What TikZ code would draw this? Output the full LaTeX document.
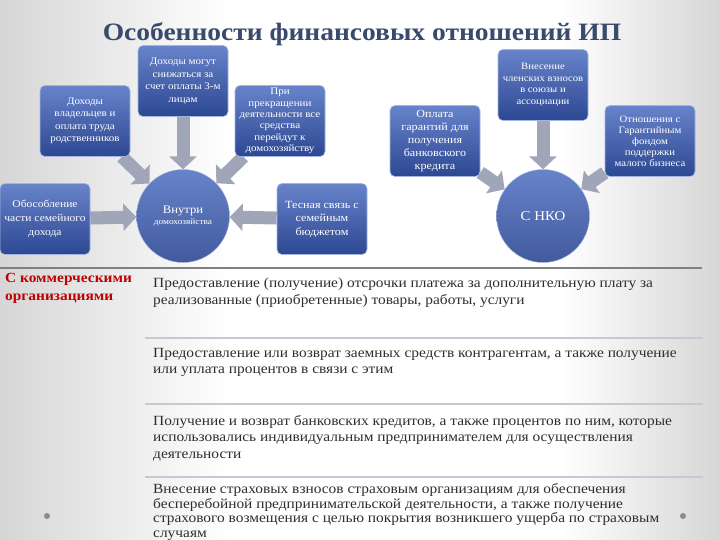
\documentclass[tikz,border=0pt]{standalone}
\usepackage{fontspec}
\setmainfont[FakeStretch=1.1]{Liberation Serif}
\usetikzlibrary{positioning,arrows.meta,backgrounds}

\definecolor{boxtop}{HTML}{6783CA}
\definecolor{boxbot}{HTML}{2D4892}
\definecolor{arrgray}{HTML}{A0A6B8}
\definecolor{titleblue}{HTML}{3A4A6C}
\definecolor{textgray}{HTML}{2E2E2E}
\definecolor{sepgray}{HTML}{C6C9D3}
\definecolor{redtext}{HTML}{C00000}
\definecolor{edgegray}{HTML}{D6D6D6}

\tikzset{
  infobox/.style={rectangle, rounded corners=5pt, top color=boxtop, bottom color=boxbot,
    draw=boxtop!60!white, line width=0.6pt, minimum width=90pt, minimum height=71pt,
    inner sep=1pt, align=center, text=white, font=\fontsize{10}{12.5}\selectfont},
  hub/.style={circle, top color=boxtop, bottom color=boxbot!90!white, draw=boxtop!60!white,
    minimum size=93pt, inner sep=0pt, align=center, text=white},
  blockarrow/.style={arrgray, line width=13pt, -{Triangle[width=27pt,length=13pt]}},
  bodytext/.style={anchor=north west, align=left, inner sep=0pt, text=textgray,
    font=\fontsize{14}{16.5}\selectfont},
  sepline/.style={sepgray, line width=2.5pt},
}

\begin{document}
\begin{tikzpicture}[x=1pt,y=-1pt]
  \useasboundingbox (0,0) rectangle (720,540);
  \begin{pgfonlayer}{background}
    \fill[white] (0,0) rectangle (720,540);
    \fill[left color=edgegray, right color=white] (0,0) rectangle (230,540);
    \fill[left color=white, right color=edgegray] (560,0) rectangle (720,540);
  \end{pgfonlayer}

  % title
  \node[font=\fontsize{25}{28}\selectfont\bfseries, text=titleblue] (title) at (362,34)
    {Особенности финансовых отношений ИП};

  % household cluster
  \node[hub] (inner) at (183,216)
    {{\fontsize{11.5}{13}\selectfont Внутри}\\[-1pt]{\fontsize{8.5}{10}\selectfont домохозяйства}};
  \node[infobox] (owners) at (85,121) {Доходы\\владельцев и\\оплата труда\\родственников};
  \node[infobox] (thirdparty) at (183,81) {Доходы могут\\снижаться за\\счет оплаты 3-м\\лицам};
  \node[infobox, font=\fontsize{10}{11.3}\selectfont] (closing) at (280,121)
    {При\\прекращении\\деятельности все\\средства\\перейдут к\\домохозяйству};
  \node[infobox, font=\fontsize{10.5}{14}\selectfont] (separate) at (45,219)
    {Обособление\\части семейного\\дохода};
  \node[infobox, font=\fontsize{11}{13.5}\selectfont] (budget) at (322,219)
    {Тесная связь с\\семейным\\бюджетом};

  % NGO cluster
  \node[hub, font=\fontsize{13.5}{15}\selectfont] (nko) at (543,216) {С НКО};
  \node[infobox, font=\fontsize{9.7}{11.5}\selectfont] (dues) at (543,85)
    {Внесение\\членских взносов\\в союзы и\\ассоциации};
  \node[infobox, font=\fontsize{11}{13}\selectfont] (guarantee) at (435,141)
    {Оплата\\гарантий для\\получения\\банковского\\кредита};
  \node[infobox, font=\fontsize{9.8}{11}\selectfont] (fund) at (650,141)
    {Отношения с\\Гарантийным\\фондом\\поддержки\\малого бизнеса};

  \begin{pgfonlayer}{background}
    \draw[blockarrow] (owners) -- (inner);
    \draw[blockarrow] (thirdparty) -- (inner);
    \draw[blockarrow] (closing) -- (inner);
    \draw[blockarrow] (separate) -- (inner);
    \draw[blockarrow] (budget) -- (inner);
    \draw[blockarrow] (dues) -- (nko);
    \draw[blockarrow] (guarantee) -- (nko);
    \draw[blockarrow] (fund) -- (nko);
  \end{pgfonlayer}

  % commercial organisations
  \draw[black!50, line width=1.2pt] (0,268) -- (702,268);
  \node[anchor=north west, inner sep=0pt, align=left, text=redtext,
    font=\fontsize{14}{18}\selectfont\bfseries] (commerce) at (5,273)
    {С коммерческими\\организациями};

  \node[bodytext] (deferral) at (153,278)
    {Предоставление (получение) отсрочки платежа за дополнительную плату за\\
     реализованные (приобретенные) товары, работы, услуги};
  \draw[sepline] (145,338) -- (703,338);
  \node[bodytext] (loans) at (153,348)
    {Предоставление или возврат заемных средств контрагентам, а также получение\\
     или уплата процентов в связи с этим};
  \draw[sepline] (145,404) -- (703,404);
  \node[bodytext] (credits) at (153,415)
    {Получение и возврат банковских кредитов, а также процентов по ним, которые\\
     использовались индивидуальным предпринимателем для осуществления\\
     деятельности};
  \draw[sepline] (145,477) -- (703,477);
  \node[bodytext, font=\fontsize{14}{14.8}\selectfont] (insurance) at (153,483)
    {Внесение страховых взносов страховым организациям для обеспечения\\
     бесперебойной предпринимательской деятельности, а также получение\\
     страхового возмещения с целью покрытия возникшего ущерба по страховым\\
     случаям};

  \fill[black!45] (47,516) circle (3pt);
  \fill[black!45] (683,516) circle (3pt);
\end{tikzpicture}
\end{document}
